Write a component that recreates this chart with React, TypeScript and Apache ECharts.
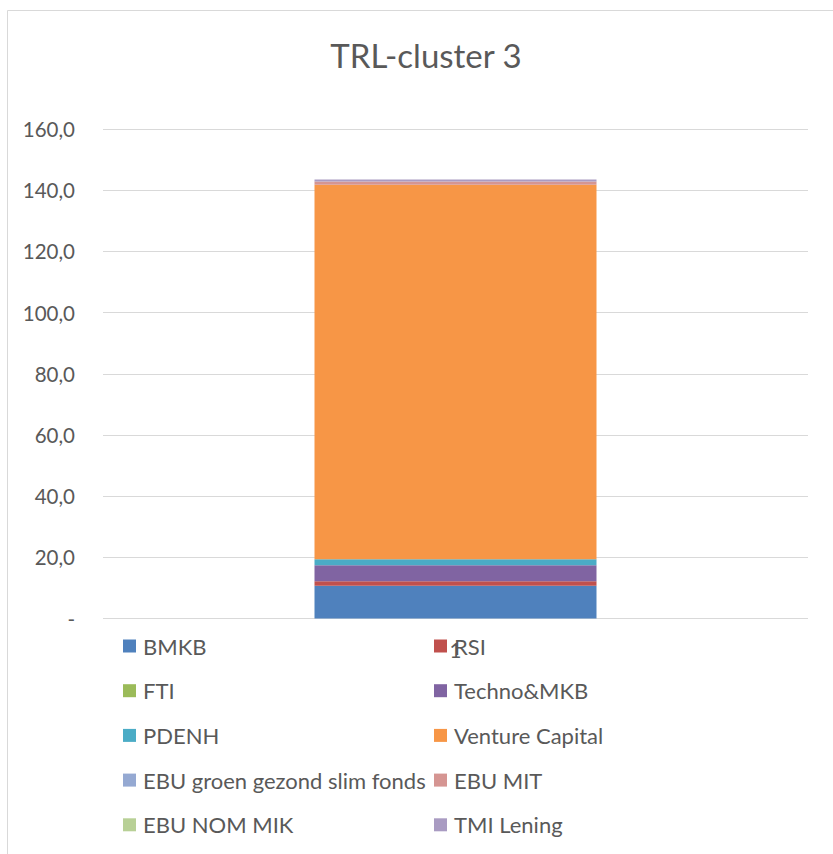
import React, { useEffect, useRef } from "react";
import * as echarts from "echarts";

const categories = ["1"];
const seriesNames = [
  "BMKB",
  "RSI",
  "FTI",
  "Techno&MKB",
  "PDENH",
  "Venture Capital",
  "EBU groen gezond slim fonds",
  "EBU MIT",
  "EBU NOM MIK",
  "TMI Lening",
];
const seriesValues = [10.7, 1.5, 0, 5.2, 2.0, 122.4, 0, 1.0, 0, 0.7];
const seriesColors = [
  "#4F81BD",
  "#C0504D",
  "#9BBB59",
  "#8064A2",
  "#4BACC6",
  "#F79646",
  "#95A9D2",
  "#D59592",
  "#B8D096",
  "#A99BC2",
];
const leftLegend = ["BMKB", "FTI", "PDENH", "EBU groen gezond slim fonds", "EBU NOM MIK"];
const rightLegend = ["RSI", "Techno&MKB", "Venture Capital", "EBU MIT", "TMI Lening"];
const yMin = 0;
const yMax = 160;
const yInterval = 20;

const FONT = "Lato";
const TXT = "#595959";

export default function App() {
  const ref = useRef<HTMLDivElement>(null);
  useEffect(() => {
    if (!ref.current) return;
    const chart = echarts.init(ref.current, null, { renderer: "svg" });
    const legendCommon = {
      orient: "vertical" as const,
      top: 635,
      padding: 0,
      icon: "rect",
      itemWidth: 13,
      itemHeight: 13,
      itemGap: 22.7,
      textStyle: { color: TXT, fontFamily: FONT, fontSize: 22, lineHeight: 22, padding: [0, 0, 0, 2] },
      selectedMode: false,
    };
    chart.setOption({
      animation: false,
      backgroundColor: "#ffffff",
      title: {
        text: "TRL-cluster 3",
        left: 421,
        textAlign: "center",
        top: 33,
        textStyle: { color: TXT, fontFamily: FONT, fontSize: 33, fontWeight: "normal" },
      },
      graphic: [
        {
          type: "rect",
          shape: { x: 7.5, y: 10.5, width: 1000, height: 1000 },
          style: { fill: "none", stroke: "#d9d9d9", lineWidth: 1 },
          silent: true,
        },
      ],
      legend: [
        { ...legendCommon, left: 123, data: leftLegend },
        { ...legendCommon, left: 434, data: rightLegend },
      ],
      grid: { left: 103, right: 25, top: 129, bottom: 854 - 618.5 },
      xAxis: {
        type: "category",
        data: categories,
        axisLine: { show: false },
        axisTick: { show: false },
        axisLabel: { color: TXT, fontFamily: FONT, fontSize: 20.5, margin: 21 },
      },
      yAxis: {
        type: "value",
        min: yMin,
        max: yMax,
        interval: yInterval,
        axisLine: { show: false },
        axisTick: { show: false },
        splitLine: { lineStyle: { color: "#d9d9d9", width: 1 } },
        axisLabel: {
          color: TXT,
          fontFamily: FONT,
          fontSize: 20.5,
          margin: 28,
          formatter: (v: number) => (v === 0 ? "-" : v.toFixed(1).replace(".", ",")),
        },
      },
      series: seriesNames.map((name, i) => ({
        name,
        type: "bar",
        stack: "total",
        barWidth: "40%",
        data: [seriesValues[i]],
        itemStyle: { color: seriesColors[i] },
      })),
    });
    return () => chart.dispose();
  }, []);
  return (
    <div
      ref={ref}
      style={{ width: 833, height: 854, position: "absolute", left: 0, top: 0 }}
    />
  );
}
